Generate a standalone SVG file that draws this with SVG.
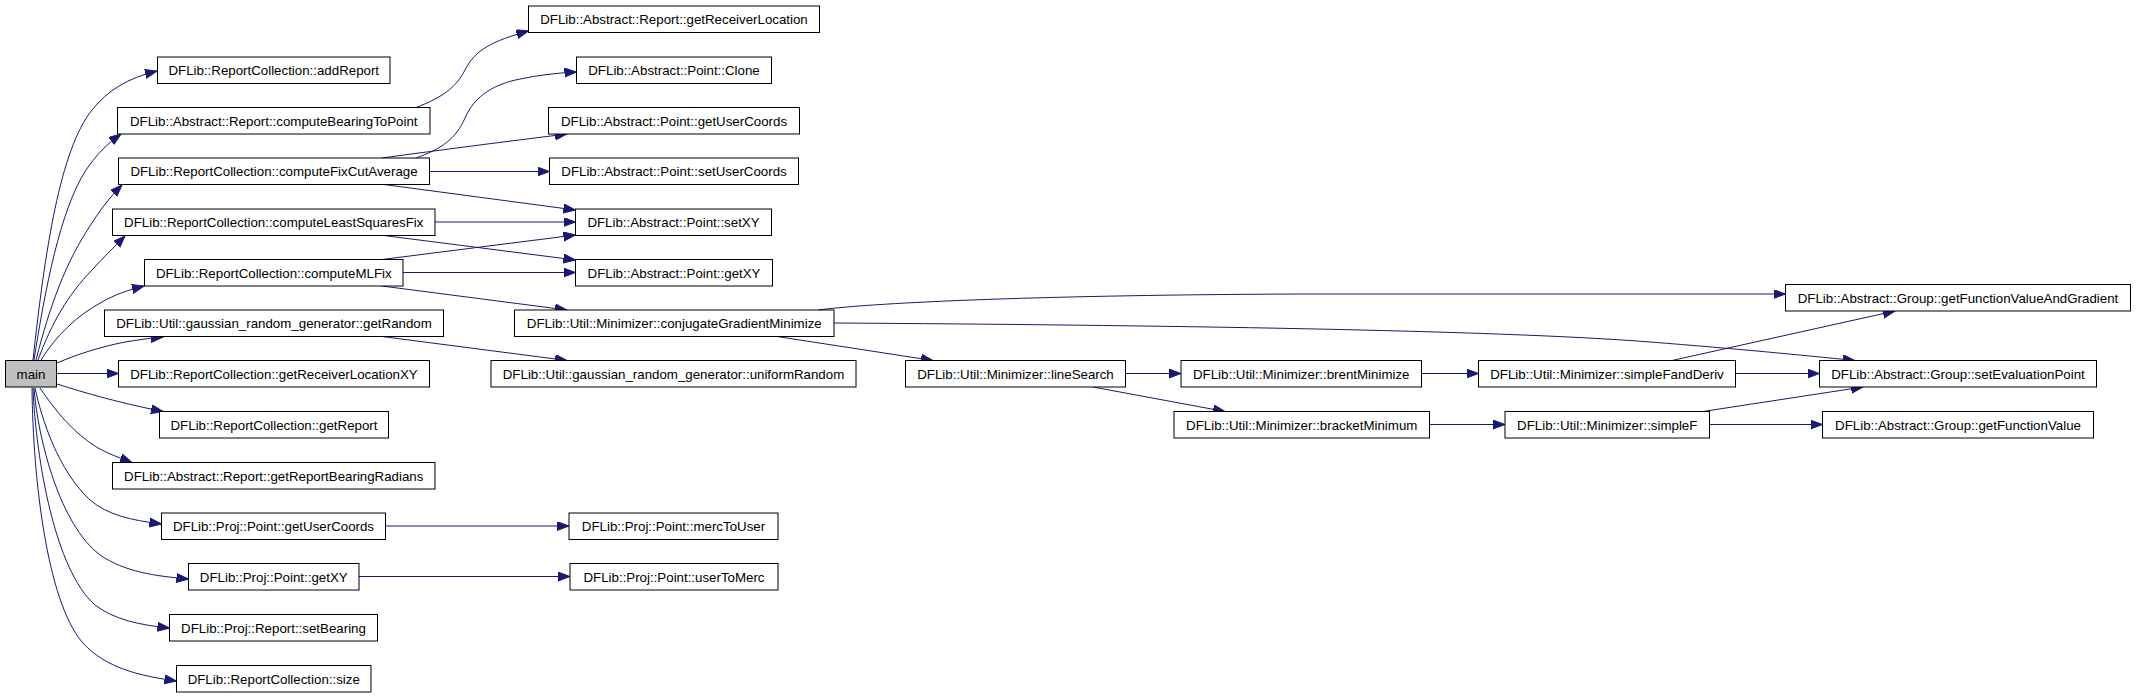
<svg xmlns="http://www.w3.org/2000/svg" width="2136" height="696" viewBox="0 0 2136 696">
<style>
.n rect{fill:#ffffff;stroke:#000000;stroke-width:1}
#main rect{fill:#bfbfbf}
.n text{font-family:"Liberation Sans",Arial,sans-serif;font-size:13.3px;text-anchor:middle;fill:#000000}
.e path{fill:none;stroke:#191970;stroke-width:1;marker-end:url(#a)}
</style>
<defs>
<marker id="a" markerUnits="userSpaceOnUse" markerWidth="14" markerHeight="10" refX="12" refY="4.5" orient="auto" viewBox="0 0 14 10">
<path d="M0,0 L12,4.5 L0,9 z" fill="#191970" stroke="#191970" stroke-width="1"/>
</marker>
</defs>
<rect width="2136" height="696" fill="#ffffff"/>
<g id="edges" class="e">
<path d="M33,360 C45,250 60,150 92,110 C108,90 128,78 157,71"/>
<path d="M34,360 C45,290 60,210 86,170 C96,155 107,144 121,134"/>
<path d="M36,360 C50,305 66,262 90,226 C100,210 110,197 122,185"/>
<path d="M38,360 C52,322 68,295 92,270 C102,259 113,248 125,236"/>
<path d="M41,360 C56,336 76,316 102,302 C114,295 128,290 144,286"/>
<path d="M57,363 C78,354 100,347 125,342 C138,340 150,338 163,337"/>
<path d="M57,373.5 L118.5,373.5"/>
<path d="M57,384 C85,393 120,403 163,411.5"/>
<path d="M40,388 C55,410 72,432 98,448 C109,454 120,458 132,462.5"/>
<path d="M35,388 C42,420 58,470 90,500 C108,515 130,520 161.5,524"/>
<path d="M34,388 C38,440 60,525 100,555 C125,572 155,576 188.5,579"/>
<path d="M33,388 C36,460 55,570 95,605 C115,620 140,625 169.5,628"/>
<path d="M32,388 C33,480 47,600 82,642 C105,668 140,676 176.5,681"/>
<path d="M416,107.5 C441,98 456,88 465,70 C475,50 492,41 528.5,31"/>
<path d="M416,158 C441,149 456,139 465,118 C475,95 495,84 520,79 C540,75 556,73 576.5,72"/>
<path d="M382,158 C440,150 510,141 567,134"/>
<path d="M429.5,171.5 L549.5,171.5"/>
<path d="M384,184.5 L575.5,210"/>
<path d="M435,222 L575.5,222"/>
<path d="M384,235.5 L575.5,260"/>
<path d="M382,259.5 L575.5,235"/>
<path d="M403,272.5 L575.5,272.5"/>
<path d="M382,286 L567,310"/>
<path d="M382,336.5 L567,360.5"/>
<path d="M385.5,526 L569,526"/>
<path d="M359,576.5 L570,576.5"/>
<path d="M818,310 C880,302 1050,295 1300,294 L1785.5,294"/>
<path d="M834,323 C1150,325 1500,330 1650,342 C1740,349 1800,355 1855,360.5"/>
<path d="M777,336.5 L933,360.5"/>
<path d="M1125.5,373.5 L1181,373.5"/>
<path d="M1093,387 L1225,411.5"/>
<path d="M1421.5,373.5 L1478.5,373.5"/>
<path d="M1429.5,424.5 L1505,424.5"/>
<path d="M1672,360.5 L1895,311"/>
<path d="M1735.5,373.5 L1819.5,373.5"/>
<path d="M1703,411.5 L1863,387"/>
<path d="M1709.5,424.5 L1822.5,424.5"/>
</g>
<g id="main" class="n"><rect x="5.5" y="360.5" width="51" height="26.5"/><text x="31" y="378.5">main</text></g>
<g id="addReport" class="n"><rect x="157.5" y="57" width="232.5" height="26.5"/><text x="273.75" y="75">DFLib::ReportCollection::addReport</text></g>
<g id="computeBearingToPoint" class="n"><rect x="117.5" y="107.5" width="312.5" height="26.5"/><text x="273.75" y="125.5">DFLib::Abstract::Report::computeBearingToPoint</text></g>
<g id="computeFixCutAverage" class="n"><rect x="118.5" y="158" width="311" height="26.5"/><text x="274" y="176">DFLib::ReportCollection::computeFixCutAverage</text></g>
<g id="computeLeastSquaresFix" class="n"><rect x="112.5" y="209" width="322.5" height="26.5"/><text x="273.75" y="227">DFLib::ReportCollection::computeLeastSquaresFix</text></g>
<g id="computeMLFix" class="n"><rect x="144.5" y="259.5" width="258.5" height="26.5"/><text x="273.75" y="277.5">DFLib::ReportCollection::computeMLFix</text></g>
<g id="getRandom" class="n"><rect x="104.5" y="310" width="339" height="26.5"/><text x="274" y="328">DFLib::Util::gaussian_random_generator::getRandom</text></g>
<g id="getReceiverLocationXY" class="n"><rect x="118.5" y="360.5" width="311" height="26.5"/><text x="274" y="378.5">DFLib::ReportCollection::getReceiverLocationXY</text></g>
<g id="getReport" class="n"><rect x="159.5" y="411.5" width="229" height="26.5"/><text x="274" y="429.5">DFLib::ReportCollection::getReport</text></g>
<g id="getReportBearingRadians" class="n"><rect x="112.5" y="462.5" width="322.5" height="26.5"/><text x="273.75" y="480.5">DFLib::Abstract::Report::getReportBearingRadians</text></g>
<g id="projGetUserCoords" class="n"><rect x="161.5" y="513" width="224" height="26.5"/><text x="273.5" y="531">DFLib::Proj::Point::getUserCoords</text></g>
<g id="projGetXY" class="n"><rect x="188.5" y="563.5" width="170.5" height="26.5"/><text x="273.75" y="581.5">DFLib::Proj::Point::getXY</text></g>
<g id="setBearing" class="n"><rect x="169.5" y="614.5" width="208" height="26.5"/><text x="273.5" y="632.5">DFLib::Proj::Report::setBearing</text></g>
<g id="size" class="n"><rect x="176.5" y="665.5" width="194.5" height="26.5"/><text x="273.75" y="683.5">DFLib::ReportCollection::size</text></g>
<g id="getReceiverLocation" class="n"><rect x="528.5" y="6" width="291" height="26.5"/><text x="674" y="24">DFLib::Abstract::Report::getReceiverLocation</text></g>
<g id="clone" class="n"><rect x="576.5" y="57" width="195" height="26.5"/><text x="674" y="75">DFLib::Abstract::Point::Clone</text></g>
<g id="absGetUserCoords" class="n"><rect x="548.5" y="107.5" width="251" height="26.5"/><text x="674" y="125.5">DFLib::Abstract::Point::getUserCoords</text></g>
<g id="setUserCoords" class="n"><rect x="549.5" y="158" width="249" height="26.5"/><text x="674" y="176">DFLib::Abstract::Point::setUserCoords</text></g>
<g id="setXY" class="n"><rect x="575.5" y="209" width="196" height="26.5"/><text x="673.5" y="227">DFLib::Abstract::Point::setXY</text></g>
<g id="absGetXY" class="n"><rect x="575.5" y="259.5" width="197" height="26.5"/><text x="674" y="277.5">DFLib::Abstract::Point::getXY</text></g>
<g id="conjugateGradientMinimize" class="n"><rect x="514.5" y="310" width="319.5" height="26.5"/><text x="674.25" y="328">DFLib::Util::Minimizer::conjugateGradientMinimize</text></g>
<g id="uniformRandom" class="n"><rect x="491" y="360.5" width="365" height="26.5"/><text x="673.5" y="378.5">DFLib::Util::gaussian_random_generator::uniformRandom</text></g>
<g id="mercToUser" class="n"><rect x="569" y="513" width="209" height="26.5"/><text x="673.5" y="531">DFLib::Proj::Point::mercToUser</text></g>
<g id="userToMerc" class="n"><rect x="570" y="563.5" width="208" height="26.5"/><text x="674" y="581.5">DFLib::Proj::Point::userToMerc</text></g>
<g id="lineSearch" class="n"><rect x="905.5" y="360.5" width="220" height="26.5"/><text x="1015.5" y="378.5">DFLib::Util::Minimizer::lineSearch</text></g>
<g id="brentMinimize" class="n"><rect x="1181" y="360.5" width="240.5" height="26.5"/><text x="1301.25" y="378.5">DFLib::Util::Minimizer::brentMinimize</text></g>
<g id="bracketMinimum" class="n"><rect x="1174" y="411.5" width="255.5" height="26.5"/><text x="1301.75" y="429.5">DFLib::Util::Minimizer::bracketMinimum</text></g>
<g id="simpleFandDeriv" class="n"><rect x="1478.5" y="360.5" width="257" height="26.5"/><text x="1607" y="378.5">DFLib::Util::Minimizer::simpleFandDeriv</text></g>
<g id="simpleF" class="n"><rect x="1505" y="411.5" width="204.5" height="26.5"/><text x="1607.25" y="429.5">DFLib::Util::Minimizer::simpleF</text></g>
<g id="getFunctionValueAndGradient" class="n"><rect x="1785.5" y="284.5" width="345" height="26.5"/><text x="1958" y="302.5">DFLib::Abstract::Group::getFunctionValueAndGradient</text></g>
<g id="setEvaluationPoint" class="n"><rect x="1819.5" y="360.5" width="277" height="26.5"/><text x="1958" y="378.5">DFLib::Abstract::Group::setEvaluationPoint</text></g>
<g id="getFunctionValue" class="n"><rect x="1822.5" y="411.5" width="271" height="26.5"/><text x="1958" y="429.5">DFLib::Abstract::Group::getFunctionValue</text></g>
</svg>
